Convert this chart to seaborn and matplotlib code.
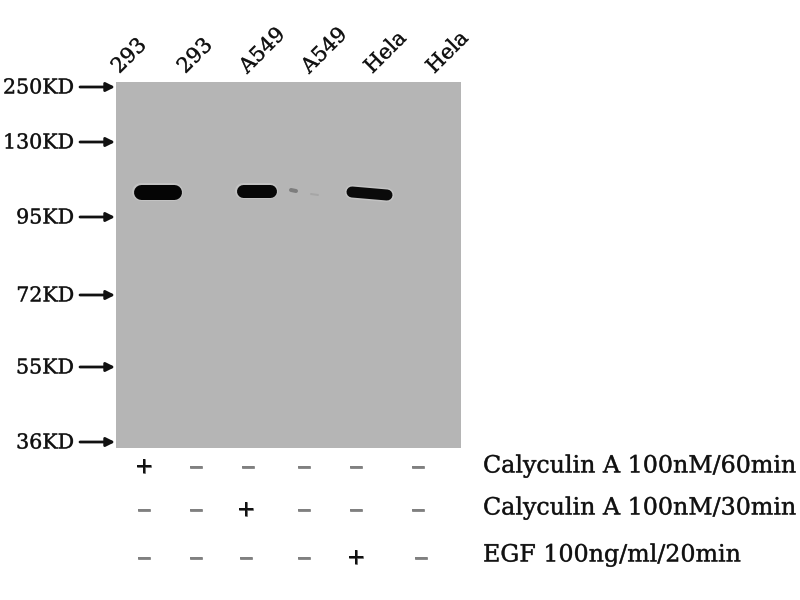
import matplotlib
matplotlib.use('Agg')
import matplotlib.pyplot as plt
import matplotlib.patheffects as pe
import seaborn as sns
import pandas as pd

# everything is measured in pixels of the 800x600 blot image
lanes = ['293', '293', 'A549', 'A549', 'Hela', 'Hela']
lane_label_x = [122, 188, 250, 312, 375, 437]

markers = ['250KD', '130KD', '95KD', '72KD', '55KD', '36KD']
marker_y = [87, 142, 217, 295, 367, 442]

band_name = ['293 +', 'A549 +', 'A549 faint', 'A549 trace', 'Hela +']
band_x0 = [141, 243, 291, 311, 352]
band_x1 = [174, 270, 296, 318, 387]
band_y0 = [192, 191, 190, 194, 192]
band_y1 = [192, 191, 191, 195, 195]
band_thick = [15, 13, 4, 2, 11]
band_color = ['#050505', '#080808', '#7d7d7d', '#a6a6a6', '#0a0a0a']

treatments = ['Calyculin A 100nM/60min', 'Calyculin A 100nM/30min', 'EGF 100ng/ml/20min']
treat_y = [466, 508, 555]
sign_y = [467, 510, 558]
treat_signs = [
    ['+', '-', '-', '-', '-', '-'],
    ['-', '-', '+', '-', '-', '-'],
    ['-', '-', '-', '-', '+', '-'],
]
sign_x = [
    [144, 196, 248, 304, 356, 418],
    [144, 196, 246, 304, 356, 418],
    [144, 196, 246, 304, 356, 421],
]

sns.set_theme(style='white')
plt.rcParams['font.family'] = ['DejaVu Serif', 'Liberation Serif']

fig, ax = plt.subplots(figsize=(8, 6), dpi=100)
ax.set_position([0, 0, 1, 1])
ax.set_xlim(0, 800)
ax.set_ylim(600, 0)
ax.axis('off')

# membrane
ax.add_patch(plt.Rectangle((116, 82), 345, 366, color='#b5b5b5', lw=0, zorder=1))

# bands, with the pale halo the scan has around them
for i in range(len(band_name)):
    d = pd.DataFrame({'x': [band_x0[i], band_x1[i]], 'y': [band_y0[i], band_y1[i]]})
    if band_thick[i] > 5:
        sns.lineplot(data=d, x='x', y='y', ax=ax, color='#c3c3c3', lw=(band_thick[i] + 3) * 0.72,
                     solid_capstyle='round', zorder=2, estimator=None, sort=False)
    sns.lineplot(data=d, x='x', y='y', ax=ax, color=band_color[i], lw=band_thick[i] * 0.72,
                 solid_capstyle='round', zorder=3, estimator=None, sort=False)
ax.set_xlabel('')
ax.set_ylabel('')

# lane labels
for x, name in zip(lane_label_x, lanes):
    ax.text(x, 77, name, rotation=45, fontsize=15, ha='left', va='bottom',
            rotation_mode='anchor', color='#111111', zorder=5)

# marker labels + arrows
for name, y in zip(markers, marker_y):
    ax.text(74, y + 1, name, fontsize=14.8, ha='right', va='center', color='#111111', zorder=5)
    ax.annotate('', xy=(115, y), xytext=(80, y), zorder=5,
                arrowprops=dict(arrowstyle='-|>', color='#111111', lw=2, mutation_scale=13,
                                shrinkA=0, shrinkB=0))

# treatment rows
for r, y in enumerate(sign_y):
    for x, s in zip(sign_x[r], treat_signs[r]):
        if s == '+':
            ax.text(x, y, '+', fontsize=16, ha='center', va='center', color='#111111', zorder=5)
        else:
            ax.text(x, y, '\u2013', fontsize=21, ha='center', va='center', color='#808080',
                    zorder=5)
    ax.text(483, treat_y[r], treatments[r], fontsize=17.1, ha='left', va='center', color='#111111', zorder=5)

for t in ax.texts:
    t.set_path_effects([pe.withStroke(linewidth=0.4, foreground='#666666')])

fig.savefig('out.png', dpi=100)
